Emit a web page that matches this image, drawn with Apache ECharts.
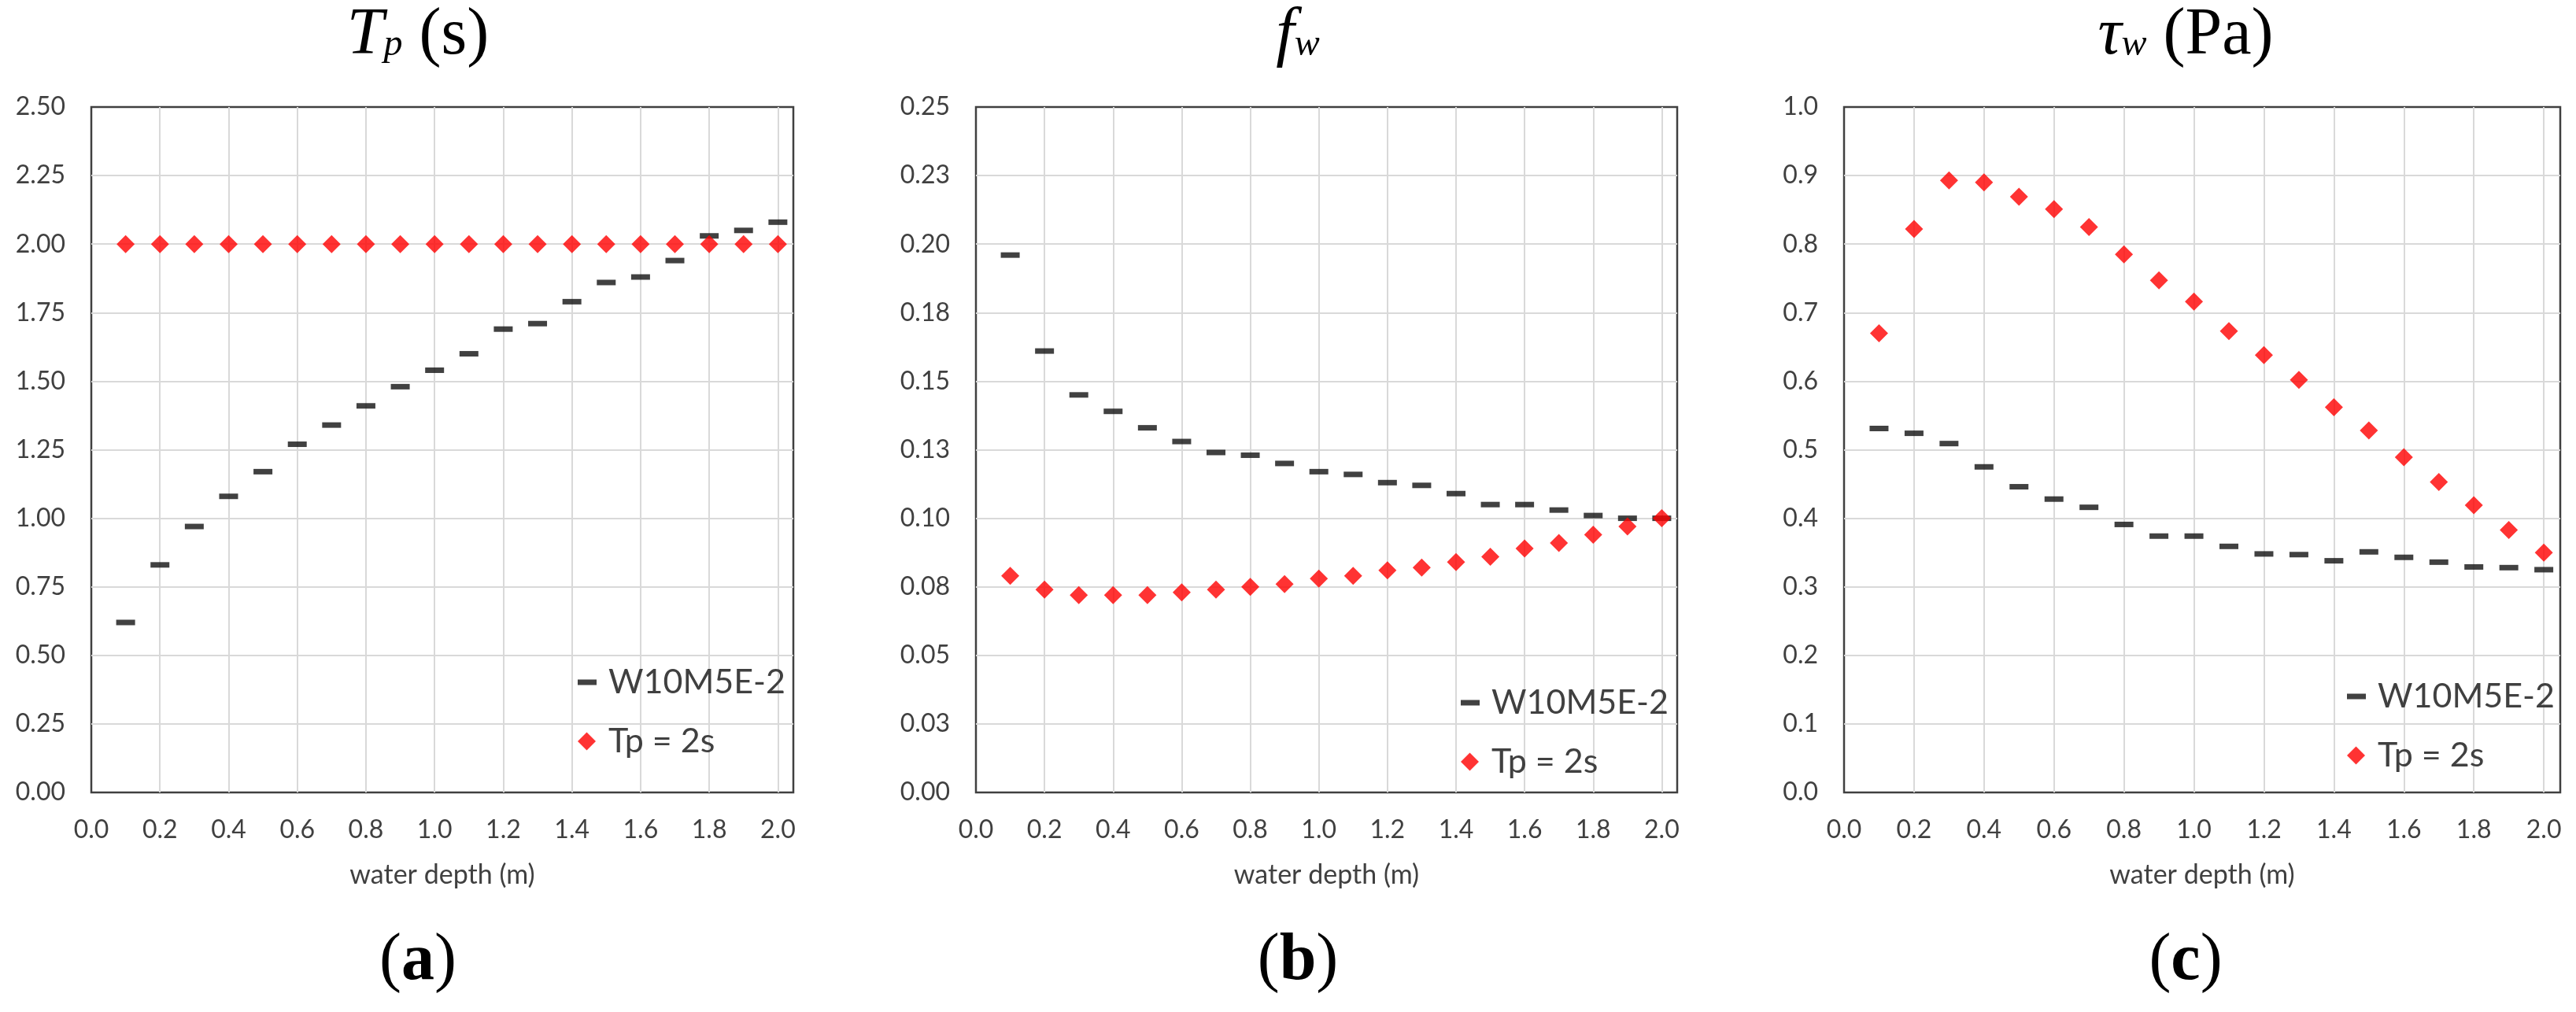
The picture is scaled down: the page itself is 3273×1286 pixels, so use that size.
<!DOCTYPE html>
<html>
<head>
<meta charset="utf-8">
<script src="https://cdn.jsdelivr.net/npm/echarts@6/dist/echarts.min.js"></script>
<style>
html,body{margin:0;padding:0;background:#ffffff;}
#chart{width:3273px;height:1286px;}
</style>
</head>
<body>
<div id="chart"></div>
<script>
// ---------- data ----------
const depth = [0.1,0.2,0.3,0.4,0.5,0.6,0.7,0.8,0.9,1.0,1.1,1.2,1.3,1.4,1.5,1.6,1.7,1.8,1.9,2.0];

const tpW10 = [0.62,0.83,0.97,1.08,1.17,1.27,1.34,1.41,1.48,1.54,1.60,1.69,1.71,1.79,1.86,1.88,1.94,2.03,2.05,2.08];
const tp2s  = [2.00,2.00,2.00,2.00,2.00,2.00,2.00,2.00,2.00,2.00,2.00,2.00,2.00,2.00,2.00,2.00,2.00,2.00,2.00,2.00];

const fwW10 = [0.196,0.161,0.145,0.139,0.133,0.128,0.124,0.123,0.120,0.117,0.116,0.113,0.112,0.109,0.105,0.105,0.103,0.101,0.100,0.100];
const fw2s  = [0.079,0.074,0.072,0.072,0.072,0.073,0.074,0.075,0.076,0.078,0.079,0.081,0.082,0.084,0.086,0.089,0.091,0.094,0.097,0.100];

const tauW10 = [0.531,0.524,0.509,0.475,0.446,0.428,0.416,0.391,0.374,0.374,0.359,0.348,0.347,0.338,0.351,0.343,0.336,0.329,0.328,0.325];
const tau2s  = [0.670,0.822,0.893,0.890,0.869,0.851,0.825,0.785,0.747,0.716,0.673,0.638,0.602,0.562,0.528,0.489,0.453,0.419,0.383,0.350];

const depthTicks = ['0.0','0.2','0.4','0.6','0.8','1.0','1.2','1.4','1.6','1.8','2.0'];
const tpTicks  = ['0.00','0.25','0.50','0.75','1.00','1.25','1.50','1.75','2.00','2.25','2.50'];
const fwTicks  = ['0.00','0.03','0.05','0.08','0.10','0.13','0.15','0.18','0.20','0.23','0.25'];
const tauTicks = ['0.0','0.1','0.2','0.3','0.4','0.5','0.6','0.7','0.8','0.9','1.0'];

const seriesNames = ['W10M5E-2','Tp = 2s'];
const xName = 'water depth (m)';

// ---------- styling ----------
const SANS = 'Lato';
const SERIF = 'Liberation Serif';
const TXT = '#404040';
const GRIDC = '#d9d9d9';
const BORDER = '#404040';

const grids = [
  {left:116,  top:136, width:892, height:871},
  {left:1240, top:136, width:891, height:871},
  {left:2343, top:136, width:910, height:871}
];
const xMax = [2.045, 2.045, 2.047];
const yAxesDef = [
  {max:2.5, interval:0.25, ticks:tpTicks},
  {max:0.25, interval:0.025, ticks:fwTicks},
  {max:1.0, interval:0.1, ticks:tauTicks}
];
const panelData = [[tpW10,tp2s],[fwW10,fw2s],[tauW10,tau2s]];

const pair = (ys) => depth.map((d,i)=>[d, ys[i]]);

const dashIcon = 'path://M0,0L0,0M0,8L24,8L24,15L0,15ZM34,23L34,23';
const diamondIcon = 'path://M11.5,0L23,11.5L11.5,23L0,11.5ZM34,23L34,23';

const xAxis = grids.map((g,i)=>({
  type:'value', gridIndex:i, min:0, max:xMax[i], interval:0.2,
  name:xName, nameLocation:'middle', nameGap:88,
  nameTextStyle:{fontFamily:SANS, fontSize:34, color:TXT},
  axisLine:{show:false}, axisTick:{show:false},
  axisLabel:{fontFamily:SANS, fontSize:32, color:TXT, margin:32,
    formatter:(v,idx)=> (depthTicks[idx]!==undefined && Math.abs(v-idx*0.2)<1e-6) ? depthTicks[idx] : ''},
  splitLine:{show:true, showMinLine:false, showMaxLine:false, lineStyle:{color:GRIDC, width:2}}
}));

const yAxis = yAxesDef.map((y,i)=>({
  type:'value', gridIndex:i, min:0, max:y.max, interval:y.interval,
  axisLine:{show:false}, axisTick:{show:false},
  axisLabel:{fontFamily:SANS, fontSize:32, color:TXT, margin:33,
    formatter:(v,idx)=> y.ticks[idx] !== undefined ? y.ticks[idx] : ''},
  splitLine:{show:true, showMinLine:false, showMaxLine:false, lineStyle:{color:GRIDC, width:2}}
}));

const series = [];
panelData.forEach((pd,i)=>{
  series.push({
    name:seriesNames[0], type:'scatter', xAxisIndex:i, yAxisIndex:i,
    symbol:'rect', symbolSize:[24,7],
    itemStyle:{color:'#111111'}, data:pair(pd[0]), z:2
  });
  series.push({
    name:seriesNames[1], type:'scatter', xAxisIndex:i, yAxisIndex:i,
    symbol:'diamond', symbolSize:[23,23],
    itemStyle:{color:'#ff0000'}, data:pair(pd[1]), z:3
  });
});

const legendPos = [
  {left:734,  top:843},
  {left:1856, top:869},
  {left:2982, top:861}
];
const legend = legendPos.map(p=>({
  left:p.left, top:p.top, orient:'vertical', padding:0,
  itemWidth:34, itemHeight:23, itemGap:27,
  selectedMode:false,
  textStyle:{fontFamily:SANS, fontSize:43, color:TXT, lineHeight:48},
  data:[{name:seriesNames[0], icon:dashIcon},{name:seriesNames[1], icon:diamondIcon}]
}));

const richTitle = {
  i:{fontFamily:SERIF, fontStyle:'italic', fontWeight:'normal', fontSize:84, color:'#000', lineHeight:90},
  s:{fontFamily:SERIF, fontStyle:'italic', fontWeight:'normal', fontSize:48, color:'#000', padding:[22,0,0,0]},
  n:{fontFamily:SERIF, fontStyle:'normal', fontWeight:'normal', fontSize:84, color:'#000', lineHeight:90},
  b:{fontFamily:SERIF, fontStyle:'normal', fontWeight:'bold', fontSize:84, color:'#000', lineHeight:90}
};
const titleCenters = [531, 1649, 2777];
const titleTexts = ['{i|T}{s|p}{n| (s)}', '{i|f}{s|w}', '{i|τ}{s|w}{n| (Pa)}'];
const subTexts = ['{n|(}{b|a}{n|)}','{n|(}{b|b}{n|)}','{n|(}{b|c}{n|)}'];
const title = [];
titleCenters.forEach((c,i)=>{
  title.push({text:titleTexts[i], left:c, top:1, textAlign:'center', padding:0,
    textStyle:{fontWeight:'normal', fontFamily:SERIF, fontSize:84, rich:richTitle}});
  title.push({text:subTexts[i], left:c, top:1177, textAlign:'center', padding:0,
    textStyle:{fontWeight:'normal', fontFamily:SERIF, fontSize:84, rich:richTitle}});
});

const option = {
  backgroundColor:'#ffffff',
  animation:false,
  title:title,
  legend:legend,
  grid:grids.map(g=>Object.assign({show:true, borderColor:BORDER, borderWidth:2.5, backgroundColor:'transparent', containLabel:false}, g)),
  xAxis:xAxis,
  yAxis:yAxis,
  series:series
};
const chart = echarts.init(document.getElementById('chart'));
chart.setOption(option);
</script>
</body>
</html>
